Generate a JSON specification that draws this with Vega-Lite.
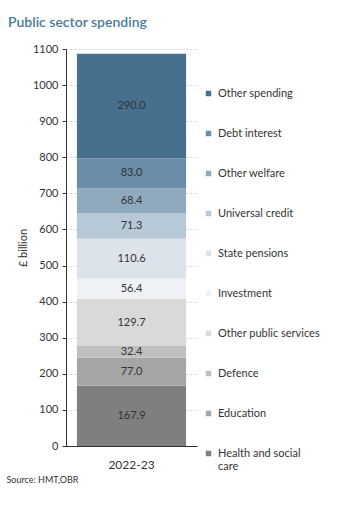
{
  "$schema": "https://vega.github.io/schema/vega-lite/v6.json",
  "width": 131,
  "height": 397,
  "autosize": "none",
  "padding": {"left": 66, "top": 49, "right": 161, "bottom": 67},
  "background": "white",
  "title": {"text": "Public sector spending", "anchor": "start", "frame": "group", "dx": -58, "offset": 13, "fontSize": 14, "font": "Lato", "fontWeight": 600, "color": "#4a7a9b"},
  "config": {"view": {"stroke": null}, "font": "Lato",
    "axisY": {"values": [0,100,200,300,400,500,600,700,800,900,1000,1100], "format": "d", "labelOverlap": false, "labelFlush": false, "labelColor": "#333333", "labelFontSize": 11, "labelPadding": 4, "tickSize": 4, "tickColor": "#333333", "domainColor": "#333333",
      "grid": true, "gridDash": [2, 2], "gridColor": "#bdbdbd", "gridWidth": 0.7, "gridOpacity": 1,
      "titleFontWeight": "normal", "titleFontSize": 11, "titleColor": "#333333", "titlePadding": 4}},
  "data": {"values": [
    {"year": "2022-23", "category": "Health and social care", "value": 167.9, "rank": 1},
    {"year": "2022-23", "category": "Education", "value": 77.0, "rank": 2},
    {"year": "2022-23", "category": "Defence", "value": 32.4, "rank": 3},
    {"year": "2022-23", "category": "Other public services", "value": 129.7, "rank": 4},
    {"year": "2022-23", "category": "Investment", "value": 56.4, "rank": 5},
    {"year": "2022-23", "category": "State pensions", "value": 110.6, "rank": 6},
    {"year": "2022-23", "category": "Universal credit", "value": 71.3, "rank": 7},
    {"year": "2022-23", "category": "Other welfare", "value": 68.4, "rank": 8},
    {"year": "2022-23", "category": "Debt interest", "value": 83.0, "rank": 9},
    {"year": "2022-23", "category": "Other spending", "value": 290.0, "rank": 10}
  ]},
  "encoding": {
    "x": {"field": "year", "type": "nominal",
      "scale": {"paddingInner": 0.1, "paddingOuter": 0.09},
      "axis": {"labelAngle": 0, "ticks": false, "domainColor": "#333333", "labelColor": "#333333", "labelFontSize": 12, "labelPadding": 13, "labelFont": "Lato",
        "title": "Source: HMT,OBR", "titleAnchor": "start", "titleAlign": "left", "titleX": -60, "titleY": 33, "titleBaseline": "middle", "titleFontSize": 9, "titleFontWeight": "normal", "titleColor": "#333333", "titleFont": "Lato"}}
  },
  "layer": [
    {
      "mark": {"type": "bar"},
      "encoding": {
        "y": {"field": "value", "type": "quantitative", "stack": "zero",
          "scale": {"domain": [0, 1100], "nice": false},
          "axis": {"title": "£ billion", "values": [0,100,200,300,400,500,600,700,800,900,1000,1100], "grid": true}},
        "color": {"field": "category", "type": "nominal",
          "scale": {
            "domain": ["Other spending", "Debt interest", "Other welfare", "Universal credit", "State pensions", "Investment", "Other public services", "Defence", "Education", "Health and social care"],
            "range": ["#476f8e", "#6a8eaa", "#91a9bd", "#b7c9d7", "#dce3ea", "#eef2f6", "#d9d9d9", "#bfbfbf", "#a5a5a5", "#7f7f7f"]},
          "legend": {"orient": "none", "legendX": 137, "legendY": 39, "padding": 0, "title": null,
            "symbolType": "square", "symbolSize": 30, "symbolStrokeWidth": 0,
            "labelFontSize": 11, "labelColor": "#333333", "labelOffset": 4, "rowPadding": 28, "labelLimit": 200,
            "labelExpr": "datum.label == 'Health and social care' ? ['Health and social', 'care'] : datum.label"}},
        "order": {"field": "rank", "type": "quantitative"}
      }
    },
    {
      "transform": [
        {"stack": "value", "groupby": ["year"], "sort": [{"field": "rank"}], "as": ["v0", "v1"]},
        {"calculate": "(datum.v0 + datum.v1) / 2", "as": "mid"}
      ],
      "mark": {"type": "text", "fontSize": 11, "color": "#333333", "font": "Lato"},
      "encoding": {
        "y": {"field": "mid", "type": "quantitative",
          "axis": {"title": "£ billion", "values": [0,100,200,300,400,500,600,700,800,900,1000,1100], "grid": true}},
        "text": {"field": "value", "type": "quantitative", "format": ".1f"}
      }
    }
  ]
}
